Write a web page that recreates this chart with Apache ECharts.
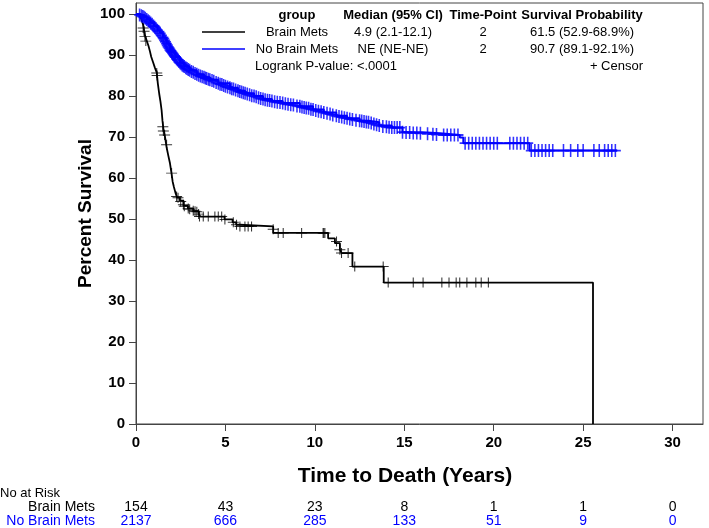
<!DOCTYPE html>
<html>
<head>
<meta charset="utf-8">
<script src="https://cdn.jsdelivr.net/npm/echarts@6/dist/echarts.min.js"></script>
<style>
  html, body { margin: 0; padding: 0; background: #fff; }
  #chart { width: 709px; height: 528px; }
</style>
</head>
<body>
<div id="chart"></div>
<script>
// Kaplan-Meier step vertices [years, percent surviving]
const brainCurve = [
  [0, 100], [0.25, 99.4], [0.3, 98.7], [0.4, 97.4], [0.45, 96.1], [0.5, 94.8], [0.6, 93.5],
  [0.7, 92.2], [0.78, 90.9], [0.85, 89.6], [0.95, 88.3], [1.05, 87.0], [1.16, 85.7],
  [1.22, 83.1], [1.3, 80.5], [1.37, 78.6], [1.43, 76.6], [1.48, 74.0], [1.53, 72.1],
  [1.62, 70.1], [1.71, 67.5], [1.8, 65.6], [1.9, 63.6], [1.99, 61.0], [2.05, 59.1],
  [2.12, 57.8], [2.2, 56.5], [2.3, 55.2], [2.45, 54.5], [2.65, 53.2], [2.9, 52.6],
  [3.2, 51.9], [3.5, 51.2], [3.6, 50.6], [4.95, 49.9], [5.4, 49.2], [5.6, 48.6],
  [5.8, 48.2], [7.67, 46.6], [10.74, 45.3], [11.12, 44.1], [11.4, 42.5], [11.5, 41.7],
  [12.1, 38.4], [13.85, 34.5], [25.55, 0]
];
const brainCensor = [
  [0.4, 96.6], [0.45, 95.8], [0.5, 94.5], [0.55, 93.4], [1.16, 85.6], [1.18, 85.0],
  [1.5, 72.5], [1.53, 71.5], [1.6, 70.5], [1.71, 68.1], [1.99, 61.2], [2.27, 55.5],
  [2.35, 55.2], [2.5, 54.3], [2.65, 53.5], [2.7, 53.1], [2.92, 52.6], [3.0, 52.4],
  [3.2, 52.0], [3.3, 51.9], [3.4, 51.8], [3.5, 51.2], [3.55, 50.6], [3.76, 50.6],
  [4.04, 50.6], [4.41, 50.6], [4.6, 50.6], [4.79, 50.6], [4.97, 49.9], [5.44, 49.2],
  [5.62, 48.6], [5.81, 48.2], [6.09, 48.2], [6.27, 48.2], [6.46, 48.2], [7.67, 47.5],
  [7.95, 46.6], [8.23, 46.6], [9.26, 46.6], [10.46, 46.6], [10.5, 46.6], [10.56, 46.6],
  [11.21, 44.5], [11.4, 42.5], [11.49, 41.7], [11.86, 41.7], [12.23, 38.4], [13.82, 38.4],
  [14.1, 34.5], [15.5, 34.5], [16.05, 34.5], [17.1, 34.5], [17.5, 34.5], [17.9, 34.5],
  [18.1, 34.5], [18.5, 34.5], [19.0, 34.5], [19.3, 34.5], [19.7, 34.5]
];
const noBrainCurve = [
  [0, 100], [0.2, 99.8], [0.4, 99.3], [0.6, 98.7], [0.8, 97.9], [1.0, 97.0], [1.2, 96.0],
  [1.34, 95.4], [1.5, 94.3], [1.7, 92.8], [1.9, 91.3], [2.0, 90.7], [2.2, 89.5],
  [2.46, 88.1], [2.7, 87.2], [3.0, 86.3], [3.4, 85.3], [3.8, 84.6], [4.13, 84.0],
  [4.6, 83.1], [5.25, 82.0], [5.7, 81.3], [6.1, 80.7], [6.6, 80.0], [7.1, 79.3],
  [7.6, 78.8], [8.2, 78.3], [9.16, 77.5], [9.9, 76.7], [10.5, 76.0], [11.2, 75.2],
  [11.8, 74.6], [12.5, 74.0], [13.0, 73.6], [13.6, 72.8], [14.3, 72.3], [14.9, 71.2],
  [16.0, 70.9], [17.0, 70.5], [18.1, 69.9], [18.3, 68.5], [22.0, 66.7], [26.9, 66.7]
];
const noBrainCensor = [
  [0.2, 99.8], [0.3, 99.6], [0.38, 99.4], [0.45, 99.2], [0.52, 99.0], [0.6, 98.7],
  [0.68, 98.4], [0.75, 98.1], [0.82, 97.8], [0.9, 97.5], [0.98, 97.1], [1.05, 96.8],
  [1.12, 96.4], [1.2, 96.0], [1.28, 95.7], [1.35, 95.3], [1.42, 94.8], [1.5, 94.3],
  [1.55, 94.0], [1.6, 93.6], [1.65, 93.2], [1.7, 92.8], [1.75, 92.4], [1.8, 92.0],
  [1.85, 91.7], [1.9, 91.3], [1.95, 91.0], [2.0, 90.7], [2.05, 90.4], [2.1, 90.1],
  [2.15, 89.8], [2.2, 89.5], [2.27, 89.1], [2.33, 88.8], [2.4, 88.4], [2.46, 88.1],
  [2.52, 87.9], [2.58, 87.6], [2.64, 87.4], [2.7, 87.2], [2.78, 86.9], [2.85, 86.7],
  [2.92, 86.5], [3.0, 86.3], [3.1, 86.0], [3.2, 85.8], [3.3, 85.5], [3.4, 85.3],
  [3.5, 85.1], [3.6, 84.9], [3.7, 84.7], [3.8, 84.6], [3.88, 84.4], [3.95, 84.3],
  [4.05, 84.1], [4.13, 84.0], [4.25, 83.8], [4.35, 83.6], [4.48, 83.3], [4.6, 83.1],
  [4.7, 82.9], [4.8, 82.8], [4.9, 82.6], [5.0, 82.4], [5.12, 82.2], [5.25, 82.0],
  [5.35, 81.8], [5.45, 81.7], [5.57, 81.5], [5.7, 81.3], [5.8, 81.1], [5.9, 81.0],
  [6.0, 80.8], [6.1, 80.7], [6.22, 80.5], [6.35, 80.3], [6.47, 80.1], [6.6, 80.0],
  [6.72, 79.8], [6.85, 79.6], [6.97, 79.4], [7.1, 79.3], [7.22, 79.1], [7.35, 79.0],
  [7.47, 78.9], [7.6, 78.8], [7.75, 78.6], [7.9, 78.5], [8.05, 78.4], [8.2, 78.3],
  [8.35, 78.1], [8.5, 78.0], [8.65, 77.9], [8.8, 77.8], [9.0, 77.6], [9.16, 77.5],
  [9.28, 77.3], [9.4, 77.2], [9.52, 77.1], [9.65, 77.0], [9.78, 76.8], [9.9, 76.7],
  [10.05, 76.5], [10.2, 76.3], [10.35, 76.2], [10.5, 76.0], [10.68, 75.8], [10.85, 75.6],
  [11.0, 75.4], [11.2, 75.2], [11.35, 75.0], [11.5, 74.9], [11.65, 74.7], [11.8, 74.6],
  [11.95, 74.4], [12.1, 74.3], [12.3, 74.1], [12.5, 74.0], [12.62, 73.9], [12.75, 73.8],
  [12.88, 73.7], [13.0, 73.6], [13.15, 73.4], [13.3, 73.2], [13.45, 73.0], [13.6, 72.8],
  [13.8, 72.6], [14.0, 72.5], [14.15, 72.4], [14.3, 72.3], [14.45, 72.3], [14.6, 72.3],
  [14.75, 72.3], [14.9, 71.2], [15.1, 71.1], [15.3, 71.1], [15.5, 71.0], [15.7, 71.0],
  [15.9, 70.9], [16.3, 70.8], [16.6, 70.7], [16.8, 70.6], [17.2, 70.5], [17.4, 70.5],
  [17.6, 70.5], [17.8, 70.5], [18.0, 70.5], [18.4, 68.5], [18.6, 68.5], [18.8, 68.5],
  [19.0, 68.5], [19.2, 68.5], [19.4, 68.5], [19.6, 68.5], [19.8, 68.5], [20.0, 68.5],
  [20.2, 68.5], [20.9, 68.5], [21.1, 68.5], [21.3, 68.5], [21.5, 68.5], [21.7, 68.5],
  [21.9, 68.5], [22.1, 66.7], [22.3, 66.7], [22.5, 66.7], [22.7, 66.7], [22.9, 66.7],
  [23.1, 66.7], [23.3, 66.7], [23.9, 66.7], [24.3, 66.7], [24.7, 66.7], [25.0, 66.7],
  [25.6, 66.7], [25.9, 66.7], [26.2, 66.7], [26.4, 66.7], [26.6, 66.7], [26.8, 66.7]
];

const xTicks = [0, 5, 10, 15, 20, 25, 30];
const yTicks = [0, 10, 20, 30, 40, 50, 60, 70, 80, 90, 100];
const riskTimes = [0, 5, 10, 15, 20, 25, 30];
const riskBrain = [154, 43, 23, 8, 1, 1, 0];
const riskNoBrain = [2137, 666, 285, 133, 51, 9, 0];

const BLUE = '#0000ff';
const SANS = '"Liberation Sans", Arial, sans-serif';
const plus = 'path://M5,0 L5,10 M0,5 L10,5';

const chart = echarts.init(document.getElementById('chart'), null, { renderer: 'canvas' });

const axisCommon = {
  type: 'value',
  axisLine: { show: true, lineStyle: { color: '#444', width: 1 } },
  axisTick: { show: true, length: 7, lineStyle: { color: '#444' } },
  splitLine: { show: false },
};
const tickFont = { fontFamily: SANS, fontWeight: 'bold', fontSize: 15, color: '#000', margin: 11 };

chart.setOption({
  animation: false,
  backgroundColor: '#fff',
  grid: {
    left: 136, right: 6, top: 3, bottom: 104,
    show: true, borderColor: '#444', borderWidth: 1, backgroundColor: 'transparent',
  },
  xAxis: {
    ...axisCommon,
    min: 0,
    max: 31.7,
    interval: 5,
    name: 'Time to Death (Years)',
    nameLocation: 'middle',
    nameGap: 42,
    nameTextStyle: {
      fontFamily: SANS, fontWeight: 'bold', fontSize: 21, color: '#000',
      padding: [0, 29, 0, 0],
    },
    axisTick: { ...axisCommon.axisTick, customValues: xTicks },
    axisLabel: { ...tickFont, customValues: xTicks },
  },
  yAxis: {
    ...axisCommon,
    min: 0,
    max: 102.7,
    interval: 10,
    name: 'Percent Survival',
    nameLocation: 'middle',
    nameGap: 41,
    nameMoveOverlap: false,
    nameTextStyle: { fontFamily: SANS, fontWeight: 'bold', fontSize: 19, color: '#000' },
    axisTick: { ...axisCommon.axisTick, customValues: yTicks },
    axisLabel: { ...tickFont, customValues: yTicks },
  },
  series: [
    {
      name: 'Brain Mets',
      type: 'line',
      step: 'end',
      data: brainCurve,
      showSymbol: false,
      lineStyle: { color: '#000', width: 1.8 },
      z: 2,
    },
    {
      name: 'Brain Mets censor',
      type: 'scatter',
      data: brainCensor,
      symbol: plus,
      symbolSize: [11, 10],
      itemStyle: { color: 'rgba(0,0,0,0)', borderColor: '#000', borderWidth: 1 },
      z: 3,
    },
    {
      name: 'No Brain Mets',
      type: 'line',
      step: 'end',
      data: noBrainCurve,
      showSymbol: false,
      lineStyle: { color: BLUE, width: 2 },
      z: 4,
    },
    {
      name: 'No Brain Mets censor',
      type: 'scatter',
      data: noBrainCensor,
      symbol: plus,
      symbolSize: [11, 13],
      itemStyle: { color: 'rgba(0,0,0,0)', borderColor: BLUE, borderWidth: 1.7 },
      z: 5,
    },
  ],
});

// inset table + number-at-risk rows
const head = { fontFamily: SANS, fontWeight: 'bold', fontSize: 13, fill: '#000' };
const cell = { fontFamily: SANS, fontSize: 13, fill: '#000' };
const risk = { fontFamily: SANS, fontSize: 14, fill: '#000' };
const txt = (x, y, text, style, align) => ({
  type: 'text', x, y, z: 10,
  style: { text, textAlign: align || 'center', textVerticalAlign: 'middle', ...style },
});

const graphics = [
  txt(297, 15, 'group', head),
  txt(393, 15, 'Median (95% CI)', head),
  txt(483, 15, 'Time-Point', head),
  txt(582, 15, 'Survival Probability', head),
  txt(297, 32, 'Brain Mets', cell),
  txt(393, 32, '4.9 (2.1-12.1)', cell),
  txt(483, 32, '2', cell),
  txt(582, 32, '61.5 (52.9-68.9%)', cell),
  txt(297, 49, 'No Brain Mets', cell),
  txt(393, 49, 'NE (NE-NE)', cell),
  txt(483, 49, '2', cell),
  txt(582, 49, '90.7 (89.1-92.1%)', cell),
  txt(255, 66, 'Logrank P-value: <.0001', cell, 'left'),
  txt(643, 66, '+ Censor', cell, 'right'),
  { type: 'line', z: 10, shape: { x1: 202, y1: 32, x2: 245, y2: 32 }, style: { stroke: '#000', lineWidth: 1.5 } },
  { type: 'line', z: 10, shape: { x1: 202, y1: 49, x2: 245, y2: 49 }, style: { stroke: BLUE, lineWidth: 1.5 } },
  txt(0, 493, 'No at Risk', { ...risk, fontSize: 13 }, 'left'),
  txt(95, 507, 'Brain Mets', risk, 'right'),
  txt(95, 521, 'No Brain Mets', { ...risk, fill: BLUE }, 'right'),
];
riskTimes.forEach((t, i) => {
  const x = chart.convertToPixel({ xAxisIndex: 0 }, t);
  graphics.push(txt(x, 507, String(riskBrain[i]), risk));
  graphics.push(txt(x, 521, String(riskNoBrain[i]), { ...risk, fill: BLUE }));
});
chart.setOption({ graphic: graphics });
</script>
</body>
</html>
